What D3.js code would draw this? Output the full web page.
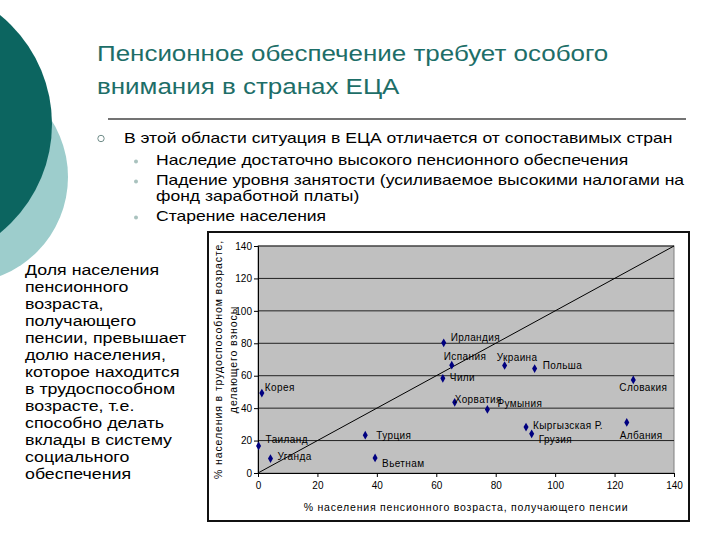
<!DOCTYPE html>
<html>
<head>
<meta charset="utf-8">
<script src="https://cdn.jsdelivr.net/npm/d3@7"></script>
<style>
body { margin: 0; background: #fff; }
svg text { font-family: "Liberation Sans", Arial, sans-serif; }
</style>
</head>
<body>
<div id="chart"></div>
<script>
// data
var countries = ["Корея", "Таиланд", "Уганда", "Турция", "Вьетнам", "Ирландия", "Испания", "Чили",
	"Хорватия", "Румыния", "Украина", "Польша", "Кыргызская Р.", "Грузия", "Словакия", "Албания"];
var pensionShare = [1.3, 0.2, 4.2, 36.1, 39.4, 62.5, 65.2, 62.2, 66.2, 77.2, 83.0, 93.1, 90.2, 92.1, 126.3, 124.1];
var contribShare = [49.3, 16.7, 8.9, 23.3, 9.3, 80.3, 66.5, 58.4, 43.6, 39.2, 66.3, 64.4, 28.3, 24.2, 57.4, 31.2];
var xTicks = [0, 20, 40, 60, 80, 100, 120, 140];
var yTicks = [0, 20, 40, 60, 80, 100, 120, 140];
var diagonal = [[0, 0], [140, 140]];

var titleLines = ["Пенсионное обеспечение требует особого", "внимания в странах ЕЦА"];
var mainBullet = "В этой области ситуация в ЕЦА отличается от сопоставимых стран";
var subBullets = [["Наследие достаточно высокого пенсионного обеспечения"],
	["Падение уровня занятости (усиливаемое высокими налогами на", "фонд заработной платы)"],
	["Старение населения"]];
var sideText = ["Доля населения", "пенсионного", "возраста,", "получающего", "пенсии, превышает",
	"долю населения,", "которое находится", "в трудоспособном", "возрасте, т.е.", "способно делать",
	"вклады в систему", "социального", "обеспечения"];

// label placement next to each marker (px from marker)
var labelDx = [3, 7, 7, 11, 7, 7, -8, 7, 0, 10, -8, 8, 7, 7, -14, -7];
var labelDy = [-6, -6, -2, 0, 6, -5, -9, -1, -3, -6, -8, -3, -2, 6, 8, 13];

var points = countries.map(function(c, i){
	return {name: c, x: pensionShare[i], y: contribShare[i], dx: labelDx[i], dy: labelDy[i]};
});

var svg = d3.select("#chart").append("svg")
	.attr("width", 720)
	.attr("height", 540);

// slide text is a bit wider than the installed font, stretch it
function addText(x0, y0, size, sx, str){
	return svg.append("text")
		.attr("transform", "translate(" + x0 + "," + y0 + ") scale(" + sx + ",1)")
		.style("font-size", size + "px")
		.text(str);
}

// decorative circles
svg.append("circle").attr("cx", -38).attr("cy", 177).attr("r", 106).attr("fill", "#9dcdcc");
svg.append("circle").attr("cx", -88).attr("cy", 124).attr("r", 140).attr("fill", "#0c6560");

// title
titleLines.forEach(function(t, i){
	addText(97, 61 + i * 32.5, 22, 1.18, t).attr("fill", "#1d6e68");
});

svg.append("line")
	.attr("x1", 108).attr("x2", 686)
	.attr("y1", 119).attr("y2", 119)
	.attr("stroke", "#444").attr("stroke-width", 1.5);

// bullets
svg.append("circle").attr("cx", 101).attr("cy", 138.5).attr("r", 3.2)
	.attr("fill", "none").attr("stroke", "#6f8c88").attr("stroke-width", 1);
addText(124, 143, 14.5, 1.21, mainBullet);

var subY = [165, 185, 221];
subBullets.forEach(function(lines, i){
	svg.append("circle").attr("cx", 136).attr("cy", subY[i] - 3.5).attr("r", 2)
		.attr("fill", "#a9c2be");
	lines.forEach(function(t, j){
		addText(156, subY[i] + j * 16.2, 14.5, 1.21, t);
	});
});

// side text
sideText.forEach(function(t, i){
	addText(25, 275 + i * 17, 15.2, 1.17, t);
});

// chart box
svg.append("rect")
	.attr("x", 208).attr("y", 232)
	.attr("width", 481).attr("height", 289)
	.attr("fill", "#fff").attr("stroke", "#111").attr("stroke-width", 2);

var x = d3.scaleLinear().domain([0, 140]).range([258, 674]);
var y = d3.scaleLinear().domain([0, 140]).range([473, 246]);

svg.append("rect")
	.attr("x", x(0)).attr("y", y(140))
	.attr("width", x(140) - x(0)).attr("height", y(0) - y(140))
	.attr("fill", "#c0c0c0").attr("stroke", "#808080").attr("stroke-width", 1);

svg.selectAll("line.grid").data(yTicks.slice(1)).enter()
	.append("line")
	.attr("class", "grid")
	.attr("x1", x(0)).attr("x2", x(140))
	.attr("y1", function(d){ return y(d); })
	.attr("y2", function(d){ return y(d); })
	.attr("stroke", "#222").attr("stroke-width", 1);

var xAxis = svg.append("g")
	.attr("transform", "translate(0," + y(0) + ")")
	.call(d3.axisBottom(x).tickValues(xTicks).tickSize(4).tickPadding(5));
var yAxis = svg.append("g")
	.attr("transform", "translate(" + x(0) + ",0)")
	.call(d3.axisLeft(y).tickValues(yTicks).tickSize(4).tickPadding(2));
[xAxis, yAxis].forEach(function(g){
	g.select(".domain").attr("stroke", "#000");
	g.selectAll(".tick line").attr("stroke", "#000");
	g.selectAll("text").style("font-size", "10px").attr("fill", "#000")
		.style("font-family", "\"Liberation Sans\", Arial, sans-serif");
});

// diagonal
svg.append("path")
	.datum(diagonal)
	.attr("d", d3.line().x(function(d){ return x(d[0]); }).y(function(d){ return y(d[1]); }))
	.attr("stroke", "#000").attr("stroke-width", 1).attr("fill", "none");

// markers
svg.selectAll("path.pt").data(points).enter()
	.append("path")
	.attr("class", "pt")
	.attr("d", d3.symbol().type(d3.symbolDiamond).size(22))
	.attr("transform", function(d){ return "translate(" + x(d.x) + "," + y(d.y) + ")"; })
	.attr("fill", "#000080");

svg.selectAll("text.lbl").data(points).enter()
	.append("text")
	.attr("class", "lbl")
	.attr("x", function(d){ return x(d.x) + d.dx; })
	.attr("y", function(d){ return y(d.y) + d.dy; })
	.attr("dominant-baseline", "central")
	.style("font-size", "10px")
	.style("letter-spacing", "0.4px")
	.text(function(d){ return d.name; });

// axis titles
svg.append("text")
	.attr("x", (x(0) + x(140)) / 2).attr("y", 511)
	.attr("text-anchor", "middle")
	.style("font-size", "10.5px")
	.style("letter-spacing", "0.8px")
	.text("% населения пенсионного возраста, получающего пенсии");

var yTitle = svg.append("text")
	.attr("transform", "translate(222," + (y(0) + y(140)) / 2 + ") rotate(-90)")
	.attr("text-anchor", "middle")
	.style("font-size", "10.5px")
	.style("letter-spacing", "0.9px");
yTitle.append("tspan").attr("x", 0).attr("y", 0).text("% населения в трудоспособном возрасте,");
yTitle.append("tspan").attr("x", 0).attr("y", 15).text("делающего взносы");
</script>
</body>
</html>
